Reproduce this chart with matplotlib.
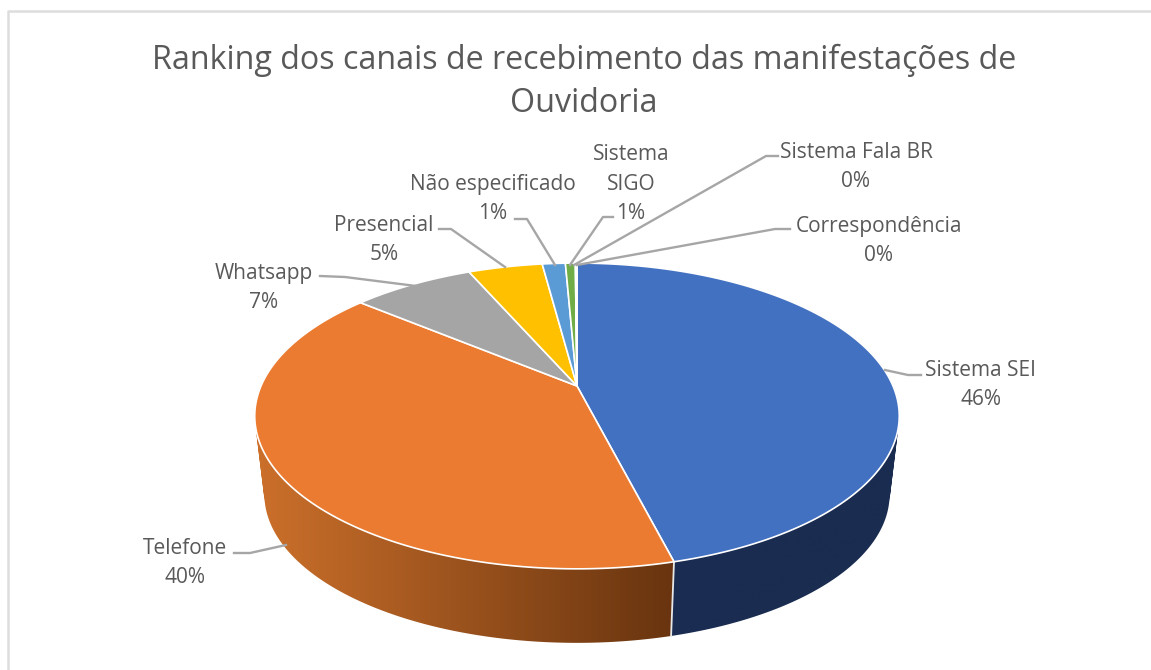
import numpy as np
import matplotlib
matplotlib.use("Agg")
import matplotlib.pyplot as plt
from matplotlib.patches import Polygon, PathPatch
from matplotlib.path import Path
from matplotlib.colors import to_rgb

categories = ["Sistema SEI", "Telefone", "Whatsapp", "Presencial",
              "Não especificado", "Sistema\nSIGO", "Sistema Fala BR", "Correspondência"]
values = [46.0, 40.0, 7.4, 4.5, 1.4, 0.6, 0.05, 0.05]
pct_labels = ["46%", "40%", "7%", "5%", "1%", "1%", "0%", "0%"]
colors = ["#4371C1", "#EB7B30", "#A5A5A5", "#FFC000", "#5B9BD5", "#70AD47", "#264478", "#9E480E"]
side_left = ["#1A2C52", "#CC702B", "#8C8C8C", "#D9A300", "#4D84B5", "#5F933C", "#203A66", "#863D0C"]
side_right = ["#1A2C50", "#68340F", "#5A5A5A", "#806000", "#2E4E6B", "#385723", "#132239", "#4F2407"]

# label layout, in pixels of the output picture
label_pos = [(981, 385), (185, 563), (264, 288), (384, 240), (493, 199), (631, 184), (856, 167), (879, 241)]
leaders = [
    [(885, 370), (908, 375), (921, 375)],
    [(286, 545), (250, 553), (234, 553)],
    [(416, 286), (345, 277), (320, 276)],
    [(505, 267), (451, 229), (439, 229)],
    [(555, 265), (527, 219), (515, 219)],
    [(570, 265), (603, 217), (613, 217)],
    [(574, 265), (766, 156), (778, 156)],
    [(577, 265), (775, 229), (790, 229)],
]

W, H = 1151, 670
TEXT = "#595959"
plt.rcParams["font.family"] = ["Open Sans", "Noto Sans", "DejaVu Sans"]
fig = plt.figure(figsize=(W / 100, H / 100), dpi=100, facecolor="white")
ax = fig.add_axes([0, 0, 1, 1])
ax.axis("off")

# chart frame: left and top edges only reach the picture
ax.plot([8, 8, 1151], [670, 11, 11], color="#DDDDDD", lw=1.8, zorder=1)

# perspective projection of the pie disc (angle 0 at the far side, clockwise)
CX, CY_TOP, CY_BOT = 577, 386, 465.5
A, B, K, S = 316, 147, 0.196, 0.97

def project(theta, y0, scale=1.0):
    u, v = np.sin(theta), -np.cos(theta)
    w = 1 - K * v
    return CX + scale * A * u / w, y0 + scale * B * v / w

edges = 2 * np.pi * np.concatenate([[0], np.cumsum(values)]) / sum(values)

# sides: the swept rim of each slice, filled with a horizontal gradient clipped to it
for i in range(len(values)):
    th = np.linspace(edges[i], edges[i + 1], max(4, int((edges[i + 1] - edges[i]) * 120)))
    xt, yt = project(th, CY_TOP)
    xb, yb = project(th, CY_BOT, S)
    verts, codes = [], []
    for j in range(len(th) - 1):
        q = np.array([(xt[j], yt[j]), (xt[j + 1], yt[j + 1]), (xb[j + 1], yb[j + 1]), (xb[j], yb[j])])
        area = np.sum(q[:, 0] * np.roll(q[:, 1], -1) - np.roll(q[:, 0], -1) * q[:, 1])
        if area < 0:
            q = q[::-1]
        verts += list(q) + [q[0]]
        codes += [Path.MOVETO, Path.LINETO, Path.LINETO, Path.LINETO, Path.CLOSEPOLY]
    outline = PathPatch(Path(np.array(verts), codes), fc="none", ec="none")
    ax.add_patch(outline)
    px, py = np.concatenate([xt, xb]), np.concatenate([yt, yb])
    c0, c1 = np.array(to_rgb(side_left[i])), np.array(to_rgb(side_right[i]))
    f = np.linspace(0, 1, 256)[None, :, None]
    im = ax.imshow(c0 + (c1 - c0) * f, aspect="auto", interpolation="bilinear",
                   extent=(px.min(), px.max() + 0.5, py.max(), py.min()), zorder=2)
    im.set_clip_path(outline)

ax.set_xlim(0, W)
ax.set_ylim(H, 0)

# white seam between the two visible side faces
xs, ys = project(edges[1], CY_TOP)
xe, ye = project(edges[1], CY_BOT, S)
ax.plot([xs, xe], [ys, ye], color="#E8E8E8", lw=1.3, zorder=3)

# top faces
for i in range(len(values)):
    th = np.linspace(edges[i], edges[i + 1], max(3, int((edges[i + 1] - edges[i]) * 120)))
    x, y = project(th, CY_TOP)
    pts = [(CX, CY_TOP)] + list(zip(x, y))
    ax.add_patch(Polygon(pts, closed=True, fc=colors[i], ec="white", lw=1.2,
                         joinstyle="round", zorder=4))

# leader lines
for pts in leaders:
    xs_, ys_ = zip(*pts)
    ax.plot(xs_, ys_, color="#A6A6A6", lw=1.7, zorder=5, solid_joinstyle="round")

# labels
for name, pct, (lx, ly) in zip(categories, pct_labels, label_pos):
    ax.text(lx, ly, f"{name}\n{pct}", ha="center", va="center", fontsize=15,
            color=TEXT, linespacing=1.56, zorder=6)

# title
ax.text(584, 82, "Ranking dos canais de recebimento das manifestações de\nOuvidoria",
        ha="center", va="center", fontsize=23.2, color=TEXT, linespacing=1.37, zorder=6)

fig.savefig("out.png", dpi=100, facecolor="white")
